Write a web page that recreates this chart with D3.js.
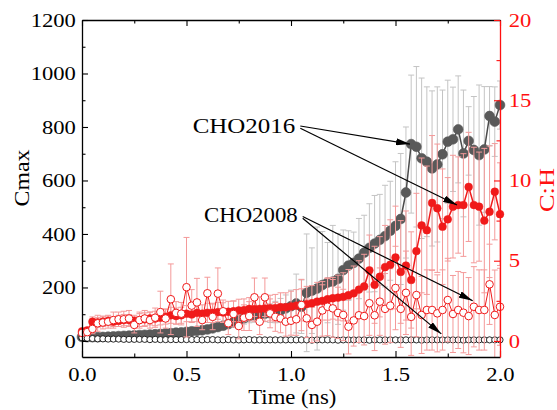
<!DOCTYPE html>
<html><head><meta charset="utf-8">
<script src="https://cdn.jsdelivr.net/npm/d3@7"></script>
<style>
html,body{margin:0;padding:0;background:#fff;}
svg{display:block;}
svg text{font-family:"Liberation Serif","Times New Roman",serif;}
</style></head><body>
<svg id="chart" width="557" height="410"></svg>
<script>
// ---------------- data ----------------
const times = [0,0.025,0.05,0.075,0.1,0.125,0.15,0.175,0.2,0.225,0.25,0.275,0.3,0.325,0.35,0.375,0.4,0.425,0.45,0.475,0.5,
  0.525,0.55,0.575,0.6,0.625,0.65,0.675,0.7,0.725,0.75,0.775,0.8,0.825,0.85,0.875,0.9,0.925,0.95,0.975,1.0,
  1.025,1.05,1.075,1.1,1.125,1.15,1.175,1.2,1.225,1.25,1.275,1.3,1.325,1.35,1.375,1.4,1.425,1.45,1.475,1.5,
  1.525,1.55,1.575,1.6,1.625,1.65,1.675,1.7,1.725,1.75,1.775,1.8,1.825,1.85,1.875,1.9,1.925,1.95,1.975,2.0];

// CHO2016 Cmax (left axis)
const cmax2016 = [15,14,14,14,15,16,17,18,19,20,21,22,23,24,25,26,28,29,31,32,34,
  36,38,40,43,47,52,57,63,70,77,85,92,96,99,102,104,108,114,122,130,
  140,128,180,188,196,209,218,222,232,265,282,292,308,330,348,364,378,392,412,430,
  456,555,736,726,683,670,645,660,698,745,754,791,701,748,714,695,716,841,820,882];
const cmax2016Err = [3,3,3,3,4,4,4,5,5,5,6,6,6,7,7,8,8,8,9,9,10,
  10,11,12,12,13,14,15,16,18,20,22,24,26,28,30,35,40,45,50,60,
  110,100,220,160,230,200,150,210,170,150,130,115,150,140,165,180,170,190,185,240,
  245,245,258,300,300,280,290,290,240,230,195,200,237,128,200,262,235,110,130,90];

// CHO2008 Cmax (left axis)
const cmax2008 = [12,10,9,8,8,7,7,7,6,6,6,6,6,5,6,5,5,5,5,5,5,
  5,5,4,5,5,4,4,5,4,4,4,5,4,4,4,4,4,4,4,4,
  4,4,4,3,4,4,4,4,3,4,4,4,4,4,3,4,4,4,4,4,
  4,4,4,4,3,4,4,4,4,4,4,4,3,4,4,4,4,4,4,4];

// CHO2016 C:H (right axis)
const ch2016 = [0.6,0.65,1.2,1.15,1.2,1.25,1.2,1.25,1.3,1.3,1.25,1.3,1.35,1.4,1.4,1.45,1.5,1.6,1.55,1.6,1.7,
  1.65,1.75,1.7,1.75,1.75,1.8,1.78,1.82,1.85,1.9,1.92,2.0,1.98,2.0,2.02,2.05,2.05,2.1,2.1,2.15,
  2.2,2.25,2.3,2.35,2.45,2.5,2.6,2.66,2.7,2.75,2.85,2.97,3.2,3.4,4.4,3.5,4.0,4.6,4.75,5.2,
  4.3,4.7,3.8,5.6,7.2,6.9,8.6,8.27,7.12,7.58,8.37,8.47,8.47,9.6,8.47,8.37,7.5,8.05,9.3,7.9];
const ch2016Err = [0.2,0.2,0.3,0.3,0.3,0.3,0.3,0.35,0.35,0.35,0.35,0.4,0.4,0.4,0.45,0.45,0.45,0.5,0.5,0.5,0.5,
  0.5,0.55,0.55,0.6,0.6,0.6,0.6,0.65,0.65,0.7,0.7,0.7,0.75,0.75,0.8,0.8,0.85,0.9,0.9,0.95,
  1.0,1.0,1.1,1.1,1.2,1.2,1.3,1.3,1.4,1.5,1.6,1.7,1.8,2.0,2.2,2.4,2.5,2.6,2.8,3.2,
  3.2,3.4,3.0,3.6,4.2,4.0,4.2,4.0,3.6,2.6,3.2,3.0,3.2,3.4,3.6,3.4,4.5,4.1,3.0,3.2];

// CHO2008 C:H (right axis)
const ch2008 = [0.5,0.55,0.75,1.1,1.15,1.2,1.3,1.35,1.35,1.4,1.0,1.3,1.4,1.3,1.45,1.8,1.4,2.6,1.75,1.7,3.35,
  2.2,2.4,1.3,2.97,1.5,2.95,1.85,1.1,1.68,0.93,1.45,1.55,2.72,1.2,2.72,1.72,1.5,1.41,1.2,1.26,
  1.35,2.24,1.41,1.0,1.2,1.9,2.13,2.03,1.75,1.62,0.89,1.28,1.6,1.55,2.35,1.6,2.45,2.0,2.2,3.3,
  2.0,3.0,1.5,2.86,1.62,1.93,1.93,1.72,1.93,2.55,1.68,1.93,1.76,1.55,2.13,1.93,1.93,3.53,1.62,2.13];
const ch2008Err = [0.2,0.2,0.3,0.5,0.4,0.4,0.5,0.45,0.5,0.5,0.5,0.5,0.5,0.5,0.6,1.3,0.6,2.2,0.7,0.7,3.1,
  1.0,1.5,0.6,1.0,0.8,1.6,0.7,0.7,0.8,0.8,0.8,0.9,1.2,0.8,1.2,0.9,0.9,0.9,0.9,0.9,
  1.0,1.6,1.2,1.1,1.2,1.6,1.8,1.8,1.6,1.6,1.7,1.6,1.7,1.8,2.0,2.2,2.1,2.2,2.3,2.6,
  2.4,2.6,2.4,2.6,2.4,2.5,2.5,2.4,2.5,2.6,2.4,2.4,2.5,2.4,2.5,2.5,2.5,2.5,2.8,2.4];

const xTicks = [0, 0.5, 1.0, 1.5, 2.0];
const xMinorTicks = [0.25, 0.75, 1.25, 1.75];
const leftTicks = [0, 200, 400, 600, 800, 1000, 1200];
const leftMinorTicks = [100, 300, 500, 700, 900, 1100];
const rightTicks = [0, 5, 10, 15, 20];
const rightMinorTicks = [2.5, 7.5, 12.5, 17.5];
const seriesNames = ["CHO2016", "CHO2008"];
const xTitle = "Time (ns)", yLeftTitle = "Cmax", yRightTitle = "C:H";

// ---------------- layout ----------------
const M = {l: 82, r: 500, t: 20, b: 357};
const FONT = '"Liberation Serif", "Times New Roman", serif';
const RED = "#f01a1a", RED_AX = "#ff1010", RED_ERR = "#f49a9a";
const GRAY = "#595959", GRAY_LINE = "#4a4a4a", GRAY_ERR = "#c4c4c4";

const svg = d3.select("#chart");
const x = d3.scaleLinear().domain([0, 2]).range([M.l, M.r]);
const yL = d3.scaleLinear().domain([-60, 1200]).range([M.b, M.t]);
const yR = d3.scaleLinear().domain([-1, 20]).range([M.b, M.t]);

const defs = svg.append("defs");
defs.append("clipPath").attr("id", "clip").append("rect")
  .attr("x", M.l).attr("y", M.t).attr("width", M.r - M.l).attr("height", M.b - M.t);
defs.append("marker").attr("id", "arrow").attr("viewBox", "0 0 14 7")
  .attr("refX", 14).attr("refY", 3.5).attr("markerWidth", 14).attr("markerHeight", 7)
  .attr("markerUnits", "userSpaceOnUse").attr("orient", "auto")
  .append("path").attr("d", "M0,0L14,3.5L0,7Z").attr("fill", "#000");

const rows = (vals, errs) => times.map((t, i) => ({t, v: vals[i], e: errs ? errs[i] : 0}));

function errBars(vals, errs, y, color) {
  svg.append("g").attr("clip-path", "url(#clip)")
    .selectAll("path").data(rows(vals, errs)).join("path")
    .attr("d", d => {
      const cx = x(d.t), y1 = y(d.v + d.e), y2 = y(d.v - d.e);
      return `M${cx - 3},${y1}H${cx + 3}M${cx},${y1}V${y2}M${cx - 3},${y2}H${cx + 3}`;
    })
    .attr("stroke", color).attr("stroke-width", 1).attr("fill", "none");
}
function series(vals, y, lineColor, lineW, r, fill, stroke, sw) {
  const data = rows(vals);
  svg.append("path").datum(data)
    .attr("d", d3.line().x(d => x(d.t)).y(d => y(d.v)))
    .attr("fill", "none").attr("stroke", lineColor).attr("stroke-width", lineW);
  svg.append("g").selectAll("circle").data(data).join("circle")
    .attr("cx", d => x(d.t)).attr("cy", d => y(d.v)).attr("r", r)
    .attr("fill", fill).attr("stroke", stroke).attr("stroke-width", sw);
}

// layer 1 (left axis)
errBars(cmax2016, cmax2016Err, yL, GRAY_ERR);
series(cmax2016, yL, GRAY_LINE, 1.5, 4.9, GRAY, GRAY, 0.6);
series(cmax2008, yL, "#000", 1, 3.1, "#fff", "#111", 0.9);
// layer 2 (right axis)
errBars(ch2016, ch2016Err, yR, RED_ERR);
errBars(ch2008, ch2008Err, yR, RED_ERR);
series(ch2016, yR, RED, 1.5, 3.9, RED, RED, 0.5);
series(ch2008, yR, RED, 1, 3.8, "#fff", RED, 1);

// ---------------- axes ----------------
function styleAxis(g, color, showText) {
  g.attr("font-family", null).attr("font-size", null);
  g.select(".domain").attr("stroke", color).attr("stroke-width", 1.3);
  g.selectAll(".tick line").attr("stroke", color).attr("stroke-width", 1.1);
  if (showText) g.selectAll(".tick text").attr("fill", color)
      .style("font-family", FONT).style("font-size", "19.5px")
      .attr("transform", "scale(1.16,1)");
  else g.selectAll(".tick text").remove();
}
function minor(axisFn, scale, vals, tx, ty, color) {
  const g = svg.append("g").attr("transform", `translate(${tx},${ty})`)
    .call(axisFn(scale).tickValues(vals).tickSize(-3.5).tickSizeOuter(0).tickFormat(() => ""));
  g.select(".domain").remove();
  g.selectAll(".tick line").attr("stroke", color).attr("stroke-width", 1.1);
}

// top
const gTop = svg.append("g").attr("transform", `translate(0,${M.t})`)
  .call(d3.axisTop(x).tickValues(xTicks).tickSize(-6).tickSizeOuter(0).tickFormat(() => ""));
styleAxis(gTop, "#000", false);
minor(d3.axisTop, x, xMinorTicks, 0, M.t, "#000");
// bottom
const gBot = svg.append("g").attr("transform", `translate(0,${M.b})`)
  .call(d3.axisBottom(x).tickValues(xTicks).tickSize(-6).tickSizeOuter(0).tickPadding(10.2).tickFormat(d3.format(".1f")));
styleAxis(gBot, "#000", true);
minor(d3.axisBottom, x, xMinorTicks, 0, M.b, "#000");
// left
const gLeft = svg.append("g").attr("transform", `translate(${M.l},0)`)
  .call(d3.axisLeft(yL).tickValues(leftTicks).tickSize(-6).tickSizeOuter(0).tickPadding(5.3).tickFormat(d3.format("d")));
styleAxis(gLeft, "#000", true);
minor(d3.axisLeft, yL, leftMinorTicks, M.l, 0, "#000");
// right
const gRight = svg.append("g").attr("transform", `translate(${M.r},0)`)
  .call(d3.axisRight(yR).tickValues(rightTicks).tickSize(-6).tickSizeOuter(0).tickPadding(7.5).tickFormat(d3.format("d")));
styleAxis(gRight, RED_AX, true);
minor(d3.axisRight, yR, rightMinorTicks, M.r, 0, RED_AX);

// titles
function label(sel) { return sel.style("font-family", FONT).attr("lengthAdjust", "spacingAndGlyphs"); }
label(svg.append("text")).attr("x", 292.3).attr("y", 404).attr("text-anchor", "middle")
  .style("font-size", "20px").attr("textLength", 88).text(xTitle);
label(svg.append("text")).attr("transform", "translate(28.5,178) rotate(-90)").attr("text-anchor", "middle")
  .style("font-size", "22px").attr("textLength", 57).text(yLeftTitle);
label(svg.append("text")).attr("transform", "translate(554,190) rotate(-90)").attr("text-anchor", "middle")
  .attr("fill", RED_AX).style("font-size", "20px").attr("textLength", 44).text(yRightTitle);

// ---------------- annotations ----------------
const annotations = [
  {label: seriesNames[0], tx: 192.7, ty: 132.5, size: 22, len: 102.6,
   arrows: [{dy: -6.5, px: x(times[63]), py: yL(cmax2016[63]), off: 0},
            {dy: -4.2, px: x(times[72]), py: yR(ch2016[72]), off: 0}]},
  {label: seriesNames[1], tx: 204, ty: 222.3, size: 21, len: 93.7,
   arrows: [{dy: -5.8, px: x(times[75]), py: yR(ch2008[75]), off: 6},
            {dy: -4.0, px: x(times[69]), py: yL(cmax2008[69]), off: 6}]}
];
annotations.forEach(a => {
  label(svg.append("text")).attr("x", a.tx).attr("y", a.ty).style("font-size", a.size + "px")
    .attr("textLength", a.len).text(a.label);
  a.arrows.forEach(ar => {
    svg.append("line").attr("x1", a.tx + a.len + 5).attr("y1", a.ty + ar.dy)
      .attr("x2", ar.px - 1.2).attr("y2", ar.py - ar.off)
      .attr("stroke", "#000").attr("stroke-width", 1.2).attr("marker-end", "url(#arrow)");
  });
});
</script>
</body></html>
